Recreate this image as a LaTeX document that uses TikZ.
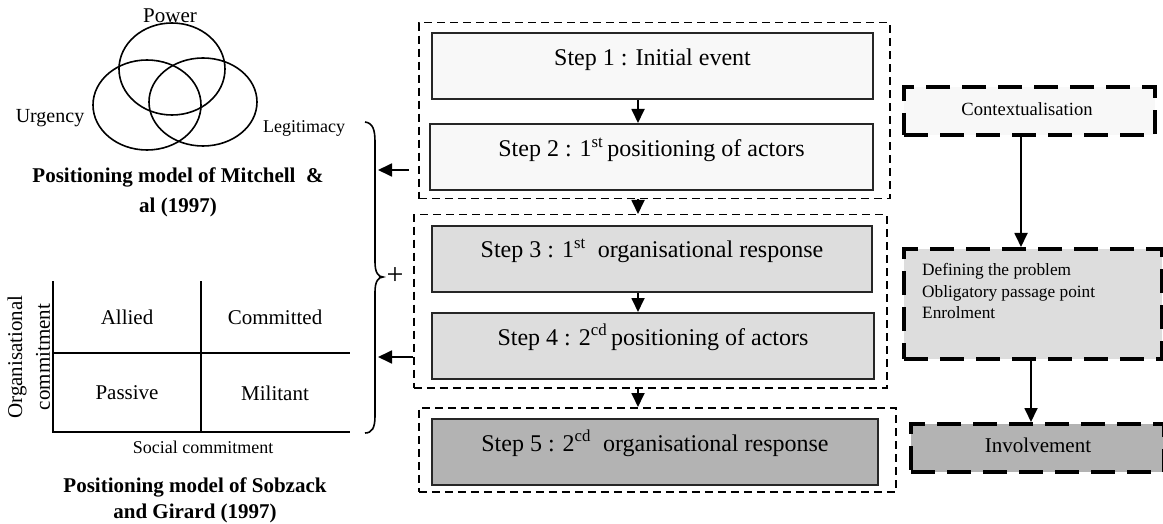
\documentclass[tikz,border=0pt]{standalone}
\usepackage{fontspec}
\setmainfont{Liberation Serif}
\usetikzlibrary{arrows.meta,calc}
\definecolor{fillA}{HTML}{F8F8F8}
\definecolor{fillB}{HTML}{DDDDDD}
\definecolor{fillC}{HTML}{B3B3B3}
\newcommand{\fs}[1]{\fontsize{#1}{#1}\selectfont}
\tikzset{
  stepbox/.style={draw=black!85, line width=2pt, rectangle, anchor=north west, inner sep=0pt},
  groupbox/.style={draw, line width=1.5pt, dash pattern=on 8pt off 5pt, rectangle, anchor=north west, inner sep=0pt},
  thickbox/.style={draw, line width=4pt, dash pattern=on 24pt off 12pt, rectangle, anchor=north west, inner sep=0pt},
  steptext/.style={anchor=base, inner sep=0pt, font=\fs{24}},
  lbl/.style={inner sep=0pt, font=\fs{21}},
  ttl/.style={inner sep=0pt, font=\fs{21}\bfseries},
  arr/.style={line width=1.8pt, -{Triangle[length=14pt,width=13pt]}},
}
\begin{document}
\begin{tikzpicture}[x=1pt,y=-1pt]
\useasboundingbox (0,0) rectangle (1163,524);

% ---- step column ----
\node[groupbox, minimum width=471pt, minimum height=176pt] (g1) at (418,22) {};
\node[groupbox, minimum width=473pt, minimum height=173pt] (g2) at (413,214) {};
\node[groupbox, minimum width=477pt, minimum height=84pt] (g3) at (418,407) {};

\node[stepbox, fill=fillA, minimum width=441pt, minimum height=66pt] (s1) at (431,32) {};
\node[stepbox, fill=fillA, minimum width=443pt, minimum height=66pt] (s2) at (429,123) {};
\node[stepbox, fill=fillB, minimum width=440pt, minimum height=66pt] (s3) at (431,225) {};
\node[stepbox, fill=fillB, minimum width=442pt, minimum height=66pt] (s4) at (431,312) {};
\node[stepbox, fill=fillC, minimum width=446pt, minimum height=66pt] (s5) at (431,418) {};

\node[steptext] (t1) at ($(s1.north)+(0,34)$) {Step 1 : Initial event};
\node[steptext] (t2) at ($(s2.north)+(0,34)$) {Step 2 : 1\textsuperscript{st}\,positioning of actors};
\node[steptext] (t3) at ($(s3.north)+(0,33)$) {Step 3 : 1\textsuperscript{st}\ \ organisational response};
\node[steptext] (t4) at ($(s4.north)+(0,33)$) {Step 4 : 2\textsuperscript{cd}\,positioning of actors};
\node[steptext] (t5) at ($(s5.north)+(0,33)$) {Step 5 : 2\textsuperscript{cd}\ \ organisational response};

\coordinate (ax) at (638,0);
\draw[arr] (s1.south -| ax) -- (s2.north -| ax);
\draw[arr] (g1.south -| ax) -- (g2.north -| ax);
\draw[arr] (s3.south -| ax) -- (s4.north -| ax);
\draw[arr] (g2.south -| ax) -- (g3.north -| ax);

% ---- right column ----
\node[thickbox, fill=fillA, minimum width=251pt, minimum height=48pt] (ctx) at (902,85) {};
\node[inner sep=0pt, font=\fs{18.6}] (ctxt) at (1027,109) {Contextualisation};
\node[thickbox, fill=fillB, minimum width=258pt, minimum height=110pt] (def) at (902,247) {};
\node[anchor=base west, inner sep=0pt, font=\fs{17.3}] (d1) at (922,276) {Defining the problem};
\node[anchor=base west, inner sep=0pt, font=\fs{17.3}] (d2) at (922,297) {Obligatory passage point};
\node[anchor=base west, inner sep=0pt, font=\fs{17.3}] (d3) at (922,318) {Enrolment};
\node[thickbox, fill=fillC, minimum width=253pt, minimum height=48pt] (inv) at (909,422) {};
\node[lbl] (invt) at (1038,445) {Involvement};

\coordinate (bx) at (1021,0);
\coordinate (cx) at (1031,0);
\draw[arr] (ctx.south -| bx) -- (def.north -| bx);
\draw[arr] (def.south -| cx) -- (inv.north -| cx);

% ---- Venn (Mitchell) ----
\draw[line width=1.6pt] (172,69) ellipse [x radius=53pt, y radius=46pt];
\draw[line width=1.6pt] (147,105) ellipse [x radius=54pt, y radius=45pt];
\draw[line width=1.6pt] (203,102) ellipse [x radius=54pt, y radius=44pt];
\node[lbl] (pw) at (170,16) {Power};
\node[inner sep=0pt, font=\fs{20}] (ur) at (50,118) {Urgency};
\node[inner sep=0pt, font=\fs{18}] (lg) at (304,128) {Legitimacy};
\node[ttl] (m1) at (178,177) {Positioning model of Mitchell \ \&};
\node[ttl] (m2) at (178,207) {al (1997)};

% ---- grid (Sobzack) ----
\draw[line width=1.6pt] (53,281) -- (53,432) -- (350,432);
\draw[line width=1.6pt] (53,353) -- (350,353);
\draw[line width=1.6pt] (201,281) -- (201,432);
\node[lbl] (al) at (127,317) {Allied};
\node[lbl] (co) at (275,317) {Committed};
\node[lbl] (pa) at (127,393) {Passive};
\node[lbl] (mi) at (275,393) {Militant};
\node[lbl, rotate=90] (oc1) at (17,357) {Organisational};
\node[lbl, rotate=90] (oc2) at (43,357) {commitment};
\node[inner sep=0pt, font=\fs{18}] (sc) at (203,447) {Social commitment};
\node[ttl] (sg1) at (195,487) {Positioning model of Sobzack};
\node[ttl] (sg2) at (195,513) {and Girard (1997)};

% ---- brace and arrows ----
\draw[line width=1.6pt] (365,122) .. controls (373,123) and (375,130) .. (375,142) -- (375,262)
  .. controls (375,272) and (378,277) .. (383,277)
  .. controls (378,277) and (375,282) .. (375,292) -- (375,416)
  .. controls (375,428) and (372,433) .. (365,433);
\node[inner sep=0pt, font=\fs{30}] (plus) at (395,276) {+};
\coordinate (a1s) at (409,170);
\coordinate (a1e) at (378,170);
\draw[arr] (a1s) -- (a1e);
\coordinate (a2e) at (378,357);
\draw[arr] (g2.west |- a2e) -- (a2e);
\end{tikzpicture}
\end{document}
